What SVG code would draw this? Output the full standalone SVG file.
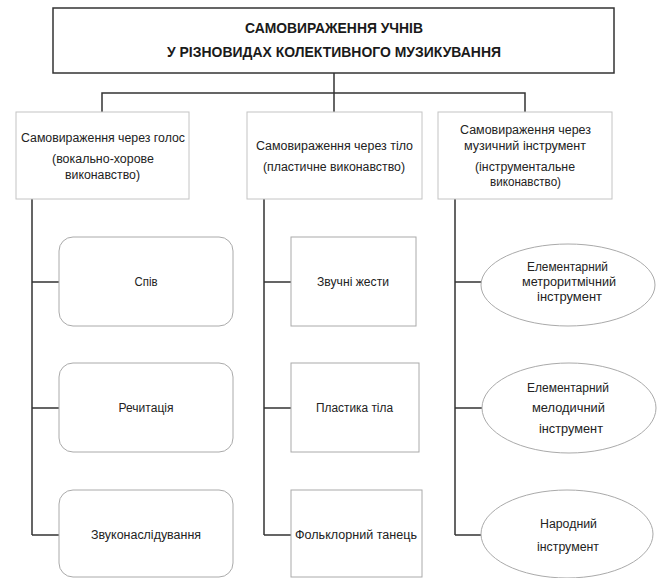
<svg xmlns="http://www.w3.org/2000/svg" width="661" height="578" viewBox="0 0 661 578">
<style>
text{font-family:"Liberation Sans","Open Sans",sans-serif;font-size:12.5px;fill:#222;text-anchor:middle}
.h{font-weight:bold;font-size:14.5px;fill:#1a1a1a}
.top{fill:#fff;stroke:#333;stroke-width:1.5}
.l2{fill:#fff;stroke:#c4c4c4;stroke-width:1}
.l3{fill:#fff;stroke:#aaa;stroke-width:1}
.conn{fill:none;stroke:#333;stroke-width:1.5}
</style>
<rect width="661" height="578" fill="#fff"/>
<g id="connectors" class="conn">
<path d="M334,73V112"/>
<path d="M102,112V93H525V112"/>
<path d="M32,199V535M32,282H59M32,408H59M32,535H59"/>
<path d="M264,199V535M264,282H291M264,408H291M264,535H291"/>
<path d="M455,199V535M455,282H482M455,408H482M455,535H481"/>
</g>
<g id="root">
<rect class="top" x="53" y="8" width="561" height="65"/>
<text class="h" x="334" y="33" textLength="178" lengthAdjust="spacingAndGlyphs">САМОВИРАЖЕННЯ УЧНІВ</text>
<text class="h" x="334" y="57" textLength="334" lengthAdjust="spacingAndGlyphs">У РІЗНОВИДАХ КОЛЕКТИВНОГО МУЗИКУВАННЯ</text>
</g>
<g id="voice">
<rect class="l2" x="16" y="112" width="173" height="87"/>
<text x="103" y="142" textLength="164" lengthAdjust="spacingAndGlyphs">Самовираження через голос</text>
<text x="103" y="163" textLength="102" lengthAdjust="spacingAndGlyphs">(вокально-хорове</text>
<text x="102.5" y="179" textLength="75" lengthAdjust="spacingAndGlyphs">виконавство)</text>
</g>
<g id="body">
<rect class="l2" x="247" y="112" width="175" height="87"/>
<text x="334.5" y="150" textLength="157" lengthAdjust="spacingAndGlyphs">Самовираження через тіло</text>
<text x="334" y="171" textLength="142" lengthAdjust="spacingAndGlyphs">(пластичне виконавство)</text>
</g>
<g id="instrument">
<rect class="l2" x="438" y="112" width="174" height="87"/>
<text x="525.5" y="134" textLength="131" lengthAdjust="spacingAndGlyphs">Самовираження через</text>
<text x="525" y="150" textLength="122" lengthAdjust="spacingAndGlyphs">музичний інструмент</text>
<text x="525" y="171" textLength="100" lengthAdjust="spacingAndGlyphs">(інструментальне</text>
<text x="525.5" y="186" textLength="71" lengthAdjust="spacingAndGlyphs">виконавство)</text>
</g>
<g id="spiv">
<rect class="l3" x="59" y="237" width="174" height="89" rx="14"/>
<text x="146" y="286" textLength="23" lengthAdjust="spacingAndGlyphs">Спів</text>
</g>
<g id="rechytatsiia">
<rect class="l3" x="59" y="363" width="174" height="89" rx="14"/>
<text x="146" y="412" textLength="55" lengthAdjust="spacingAndGlyphs">Речитація</text>
</g>
<g id="zvukonasliduvannia">
<rect class="l3" x="59" y="490" width="174" height="87" rx="14"/>
<text x="146" y="539" textLength="110" lengthAdjust="spacingAndGlyphs">Звуконаслідування</text>
</g>
<g id="zhesty">
<rect class="l3" x="291" y="237" width="125" height="89"/>
<text x="353" y="286" textLength="72" lengthAdjust="spacingAndGlyphs">Звучні жести</text>
</g>
<g id="plastyka">
<rect class="l3" x="291" y="363" width="128" height="89"/>
<text x="354.5" y="412" textLength="77" lengthAdjust="spacingAndGlyphs">Пластика тіла</text>
</g>
<g id="tanets">
<rect class="l3" x="291" y="490" width="131" height="87"/>
<text x="356" y="539" textLength="122" lengthAdjust="spacingAndGlyphs">Фольклорний танець</text>
</g>
<g id="metro">
<ellipse class="l3" cx="568" cy="285" rx="87" ry="41"/>
<text x="567.5" y="271" textLength="81" lengthAdjust="spacingAndGlyphs">Елементарний</text>
<text x="569" y="286" textLength="94" lengthAdjust="spacingAndGlyphs">метроритмічний</text>
<text x="569.5" y="301" textLength="65" lengthAdjust="spacingAndGlyphs">інструмент</text>
</g>
<g id="melod">
<ellipse class="l3" cx="569" cy="408" rx="87" ry="45"/>
<text x="568" y="392" textLength="82" lengthAdjust="spacingAndGlyphs">Елементарний</text>
<text x="568.5" y="412" textLength="73" lengthAdjust="spacingAndGlyphs">мелодичний</text>
<text x="571" y="433" textLength="64" lengthAdjust="spacingAndGlyphs">інструмент</text>
</g>
<g id="narodnyi">
<ellipse class="l3" cx="567" cy="534" rx="86" ry="44"/>
<text x="568.5" y="528" textLength="57" lengthAdjust="spacingAndGlyphs">Народний</text>
<text x="568" y="551" textLength="62" lengthAdjust="spacingAndGlyphs">інструмент</text>
</g>
</svg>
